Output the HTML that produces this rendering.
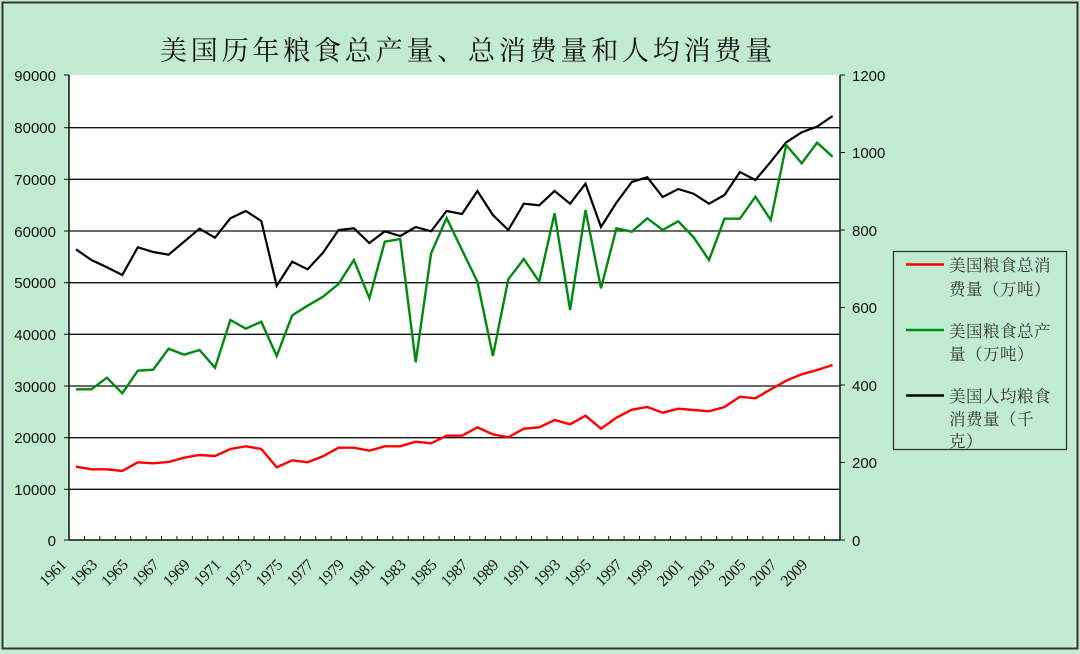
<!DOCTYPE html>
<html><head><meta charset="utf-8"><style>
html,body{margin:0;padding:0;background:#c2ecd2;}
svg{display:block;}
</style></head><body>
<svg width="1080" height="654" xmlns="http://www.w3.org/2000/svg">
<rect x="0" y="0" width="1080" height="654" fill="#c2ecd2"/>
<rect x="2.5" y="2.5" width="1075" height="646" fill="none" stroke="#333" stroke-width="2"/>
<text x="160" y="60" font-family="'Liberation Serif','Noto Serif CJK SC',serif" font-size="27" letter-spacing="3.8" fill="#111">美国历年粮食总产量、总消费量和人均消费量</text>
<rect x="69" y="75" width="771" height="465" fill="#fff"/>
<g stroke="#111" stroke-width="1.3">
<line x1="69" y1="127.7" x2="840" y2="127.7"/>
<line x1="69" y1="179.3" x2="840" y2="179.3"/>
<line x1="69" y1="231" x2="840" y2="231"/>
<line x1="69" y1="282.7" x2="840" y2="282.7"/>
<line x1="69" y1="334.3" x2="840" y2="334.3"/>
<line x1="69" y1="386" x2="840" y2="386"/>
<line x1="69" y1="437.7" x2="840" y2="437.7"/>
<line x1="69" y1="489.3" x2="840" y2="489.3"/>
</g>
<g stroke="#111" stroke-width="1.5" fill="none">
<line x1="69" y1="75" x2="69" y2="540"/>
<line x1="69" y1="540" x2="840" y2="540"/>
<line x1="840" y1="75" x2="840" y2="540"/>
</g>
<g stroke="#111" stroke-width="1">
<line x1="64" y1="75" x2="69" y2="75"/><line x1="64" y1="127.7" x2="69" y2="127.7"/><line x1="64" y1="179.3" x2="69" y2="179.3"/><line x1="64" y1="231" x2="69" y2="231"/><line x1="64" y1="282.7" x2="69" y2="282.7"/><line x1="64" y1="334.3" x2="69" y2="334.3"/><line x1="64" y1="386" x2="69" y2="386"/><line x1="64" y1="437.7" x2="69" y2="437.7"/><line x1="64" y1="489.3" x2="69" y2="489.3"/><line x1="64" y1="540" x2="69" y2="540"/>
<line x1="840" y1="75" x2="845" y2="75"/><line x1="840" y1="152.5" x2="845" y2="152.5"/><line x1="840" y1="230" x2="845" y2="230"/><line x1="840" y1="307.5" x2="845" y2="307.5"/><line x1="840" y1="385" x2="845" y2="385"/><line x1="840" y1="462.5" x2="845" y2="462.5"/><line x1="840" y1="540" x2="845" y2="540"/>
</g>
<g id="xt" stroke="#111" stroke-width="1"></g>
<g font-family="'Liberation Sans',sans-serif" font-size="15" fill="#111" text-anchor="end">
<text x="56" y="81">90000</text><text x="56" y="133">80000</text><text x="56" y="185">70000</text><text x="56" y="237">60000</text><text x="56" y="288">50000</text><text x="56" y="340">40000</text><text x="56" y="392">30000</text><text x="56" y="443">20000</text><text x="56" y="495">10000</text><text x="56" y="546">0</text>
</g>
<g font-family="'Liberation Sans',sans-serif" font-size="15" fill="#111">
<text x="852" y="81">1200</text><text x="852" y="158">1000</text><text x="852" y="236">800</text><text x="852" y="313">600</text><text x="852" y="391">400</text><text x="852" y="468">200</text><text x="852" y="546">0</text>
</g>
<g id="xl" font-family="'Liberation Serif',serif" font-size="16" fill="#111" text-anchor="end" letter-spacing="-0.5"></g>
<polyline fill="none" stroke="#000" stroke-width="2.2" id="pb"/>
<polyline fill="none" stroke="#008a10" stroke-width="2.4" id="pg"/>
<polyline fill="none" stroke="#ff0000" stroke-width="2.4" id="pr"/>
<rect x="893.5" y="251.5" width="173" height="198" fill="#c2ecd2" stroke="#333" stroke-width="1.3"/>
<line x1="906" y1="264.5" x2="944" y2="264.5" stroke="#ff0000" stroke-width="2.5"/>
<line x1="906" y1="330" x2="944" y2="330" stroke="#008a10" stroke-width="2.5"/>
<line x1="906" y1="395.5" x2="944" y2="395.5" stroke="#000" stroke-width="2.5"/>
<g font-family="'Liberation Serif','Noto Serif CJK SC',serif" font-size="16.5" fill="#333" letter-spacing="0.5">
<text x="949" y="271">美国粮食总消</text><text x="949" y="295">费量（万吨）</text>
<text x="949" y="337">美国粮食总产</text><text x="949" y="360">量（万吨）</text>
<text x="949" y="402">美国人均粮食</text><text x="949" y="425">消费量（千</text><text x="949" y="447">克）</text>
</g>
<script>
var b=[249.3,260,267.3,275,247.3,252,254.7,241.7,228.7,237.7,218.3,211,221,285.7,261.7,269.3,252.7,230,228.3,243,231.3,236,227,231.3,211,214,191,215,230,203.7,205.3,191,203.7,183.7,227,202.7,182,177.3,197,189,193.7,203.7,195,172,180,161.7,142.3,132.3,126.7,116];
var g=[389.3,389.3,377.7,393.3,370.7,369.7,348.7,354.7,350,367.7,320,328.7,321.7,356,315.3,305.7,296.7,284,260,298.3,241.7,239,362.3,253.3,218,250,281.7,356,279.3,259,281.7,213.3,310,210,288.3,228.3,231.7,218.3,230,221.3,237.3,260,218.7,218.7,196.7,220,145,163.3,142.7,156.7];
var r=[466.7,469.3,469.3,471,462.3,463.3,462,457.7,455,456,449,446.3,449,467.3,460.3,462.3,456.3,447.7,447.7,450.7,446.3,446.3,441.7,443.3,435.7,435.7,427.3,434.3,437.3,428.7,427.3,420,424.3,415.7,428.7,417.7,409.7,407,412.7,408.7,410,411.3,407,396.7,398.3,389.3,380.7,374.3,370,365];
function P(a){return a.map(function(y,i){return (76+15.44*i).toFixed(1)+','+y}).join(' ');}
document.getElementById('pb').setAttribute('points',P(b));
document.getElementById('pg').setAttribute('points',P(g));
document.getElementById('pr').setAttribute('points',P(r));
var ns='http://www.w3.org/2000/svg',xt=document.getElementById('xt'),xl=document.getElementById('xl');
for(var i=0;i<=50;i++){var x=69+15.42*i;var l=document.createElementNS(ns,'line');l.setAttribute('x1',x);l.setAttribute('x2',x);l.setAttribute('y1',536);l.setAttribute('y2',540);xt.appendChild(l);}
for(var i=0;i<50;i+=2){var x=67+15.44*i;var t=document.createElementNS(ns,'text');t.setAttribute('transform','translate('+x+',566) rotate(-45)');t.textContent=1961+i;xl.appendChild(t);}
</script>
</svg>
</body></html>
